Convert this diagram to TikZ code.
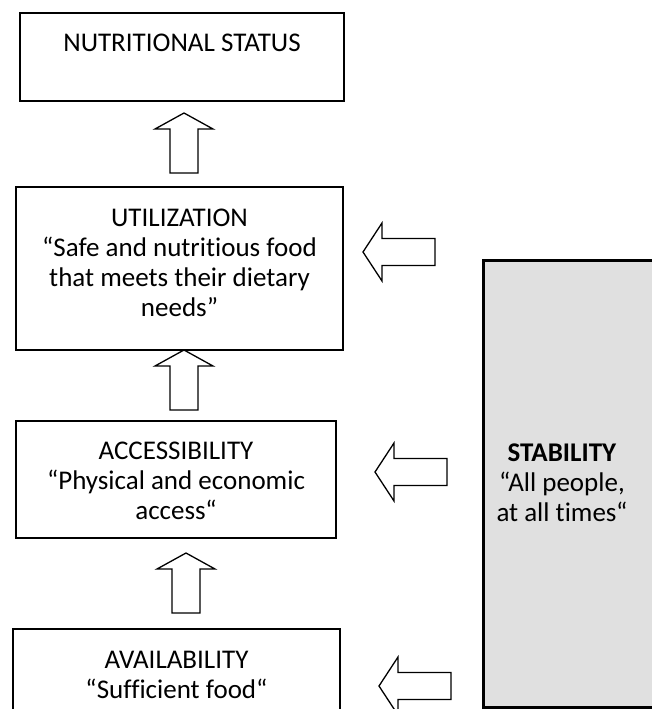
\documentclass[tikz,border=0pt]{standalone}
\usepackage{fontspec}
\setmainfont{Carlito}[Ligatures=NoCommon]
\definecolor{stabfill}{RGB}{224,224,224}
\begin{document}
\begin{tikzpicture}[x=1bp,y=-1bp,
  box/.style={draw,line width=1.5bp,rectangle,inner sep=0pt},
  txt/.style={align=center,font=\fontsize{27bp}{30bp}\selectfont,inner sep=0pt},
  blockarrow/.style={draw,line width=1.3bp,fill=white,line join=miter},
  uparr/.pic={\draw[blockarrow] (0,0) -- (29,16) -- (14,16) -- (14,60) -- (-14,60) -- (-14,16) -- (-29,16) -- cycle;},
  leftarr/.pic={\draw[blockarrow] (0,0) -- (19,-29) -- (19,-13.5) -- (72,-13.5) -- (72,13.5) -- (19,13.5) -- (19,29) -- cycle;}]
\useasboundingbox (0,0) rectangle (652,709);
\clip (0,0) rectangle (652,709);
% boxes
\node[box,minimum width=324bp,minimum height=88bp] (nut) at (182,57) {};
\node[box,minimum width=327bp,minimum height=163bp] (util) at (179.5,268.5) {};
\node[box,minimum width=320bp,minimum height=117bp] (acc) at (176,479.5) {};
\node[box,minimum width=327bp,minimum height=101bp] (avail) at (176.5,679.5) {};
\node[draw,line width=3bp,fill=stabfill,minimum width=182bp,minimum height=446bp,inner sep=0pt] (stab) at (574,484) {};
% texts
\node[txt] (tnut) at (182,43) {NUTRITIONAL STATUS};
\node[txt] (tutil) at (179.5,263) {UTILIZATION\\“Safe and nutritious food\\that meets their dietary\\needs”};
\node[txt] (tacc) at (176,481) {ACCESSIBILITY\\“Physical and economic\\access“};
\node[txt] (tavail) at (176.5,675) {AVAILABILITY\\“Sufficient food“};
\node[txt] (tstab) at (562,483) {\textbf{STABILITY}\\“All people,\\at all times“};
% block arrows
\pic (up1) at (184,113) {uparr};
\pic (up2) at (184,350) {uparr};
\pic (up3) at (186,553) {uparr};
\pic (lt1) at (363,252) {leftarr};
\pic (lt2) at (375,472) {leftarr};
\pic (lt3) at (379,686) {leftarr};
\end{tikzpicture}
\end{document}
